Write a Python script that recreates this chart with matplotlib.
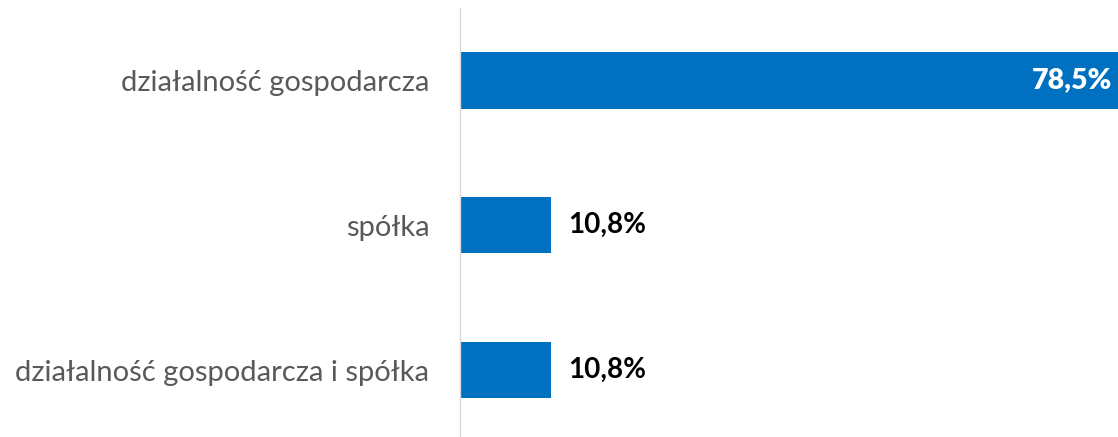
from matplotlib import pyplot as plt
import numpy as np

categories = ["działalność gospodarcza", "spółka", "działalność gospodarcza i spółka"]
values = [78.5, 10.8, 10.8]
labels = ["78,5%", "10,8%", "10,8%"]

BLUE = "#0070C0"
GRAY = "#595959"

fig = plt.figure(figsize=(11.18, 4.37), dpi=100)
ax = fig.add_axes([460 / 1118, -5.5 / 437, 1 - 460 / 1118, 1 - 8 / 437 + 5.5 / 437])

y = np.arange(len(categories))
ax.barh(y, values, height=0.39, color=BLUE)
ax.set_ylim(len(categories) - 0.5, -0.5)
ax.set_xlim(0, values[0])

for i, (v, lab) in enumerate(zip(values, labels)):
    if v > 40:
        ax.annotate(lab, (v, i), xytext=(-4, 0), textcoords="offset points",
                    ha="right", va="center", color="white", fontsize=20.5,
                    fontweight="heavy", family="Lato")
    else:
        ax.annotate(lab, (v, i), xytext=(13, 0), textcoords="offset points",
                    ha="left", va="center", color="black", fontsize=20,
                    fontweight="bold", family="Lato")

ax.set_yticks(y)
ax.set_yticklabels(categories, fontsize=21.0, color=GRAY, family="Lato")
ax.tick_params(axis="y", length=0, pad=22)
ax.set_xticks([])
for s in ["top", "right", "bottom"]:
    ax.spines[s].set_visible(False)
ax.spines["left"].set_color("#D9D9D9")
ax.spines["left"].set_linewidth(1.0)

fig.savefig("out.png", dpi=100)
